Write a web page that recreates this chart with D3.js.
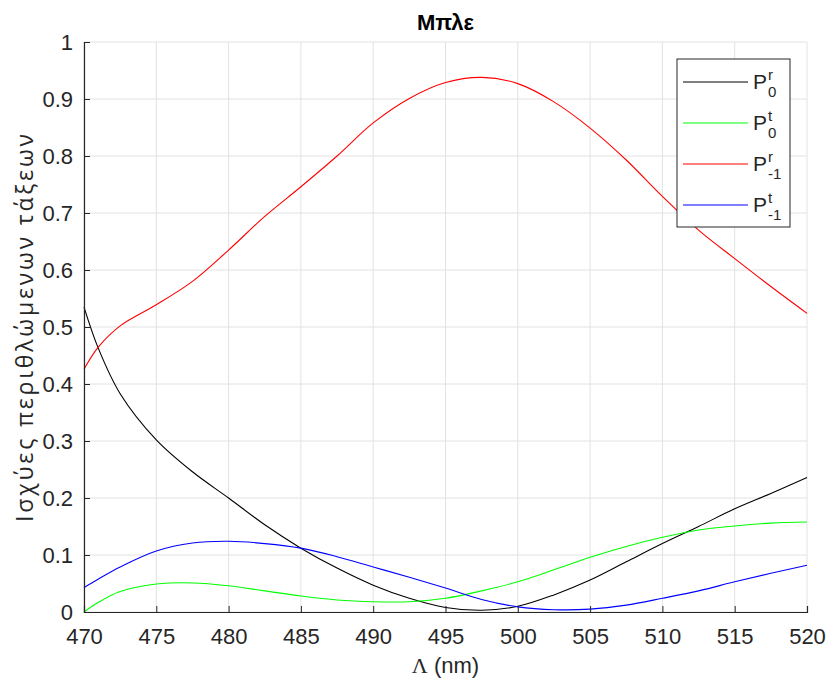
<!DOCTYPE html>
<html>
<head>
<meta charset="utf-8">
<script src="https://cdn.jsdelivr.net/npm/d3@7"></script>
<style>
  body { margin: 0; background: #fff; }
  text { font-family: "Liberation Sans", Arial, sans-serif; fill: #262626; }
</style>
</head>
<body>
<div id="chart"></div>
<script>
// wavelength samples (nm)
const lambda = [470, 471, 472.5, 475, 477.5, 480, 482.5, 485, 487.5, 490, 492.5, 495, 497.5,
                500, 502.5, 505, 507.5, 510, 512.5, 515, 517.5, 520];

const p0r  = [0.535, 0.462, 0.383, 0.302, 0.246, 0.200, 0.153, 0.112, 0.077, 0.047, 0.024, 0.008, 0.003,
              0.010, 0.030, 0.056, 0.088, 0.120, 0.150, 0.181, 0.208, 0.236];
const p0t  = [0.000, 0.017, 0.036, 0.049, 0.051, 0.046, 0.037, 0.028, 0.021, 0.018, 0.018, 0.024, 0.037,
              0.053, 0.074, 0.096, 0.115, 0.131, 0.144, 0.151, 0.156, 0.158];
const pm1r = [0.426, 0.465, 0.502, 0.539, 0.580, 0.635, 0.694, 0.746, 0.800, 0.858, 0.901, 0.929, 0.938,
              0.927, 0.895, 0.849, 0.793, 0.729, 0.670, 0.620, 0.571, 0.524];
const pm1t = [0.043, 0.058, 0.079, 0.107, 0.121, 0.124, 0.120, 0.112, 0.097, 0.079, 0.061, 0.042, 0.022,
              0.009, 0.004, 0.005, 0.012, 0.024, 0.037, 0.053, 0.068, 0.082];

const xTicks = [470, 475, 480, 485, 490, 495, 500, 505, 510, 515, 520];
const yTicks = [0, 0.1, 0.2, 0.3, 0.4, 0.5, 0.6, 0.7, 0.8, 0.9, 1];

const series = [
  {values: p0r,  color: "#000000", sup: "r", sub: "0"},
  {values: p0t,  color: "#00ff00", sup: "t", sub: "0"},
  {values: pm1r, color: "#ff0000", sup: "r", sub: "-1"},
  {values: pm1t, color: "#0000ff", sup: "t", sub: "-1"}
];

const svgWidth = 827, svgHeight = 680;
const margin = {top: 42, left: 84};
const width = 807 - margin.left;
const height = 612 - margin.top;

const svg = d3.select("#chart").append("svg")
    .attr("width", svgWidth)
    .attr("height", svgHeight);

const g = svg.append("g")
    .attr("transform", `translate(${margin.left}, ${margin.top})`);

const x = d3.scaleLinear().domain([470, 520]).range([0, width]);
const y = d3.scaleLinear().domain([0, 1]).range([height, 0]);

// grid
g.append("g").selectAll("line")
    .data(xTicks)
    .join("line")
    .attr("x1", d => x(d)).attr("x2", d => x(d))
    .attr("y1", 0).attr("y2", height)
    .attr("stroke", "#e2e2e2");
g.append("g").selectAll("line")
    .data(yTicks)
    .join("line")
    .attr("x1", 0).attr("x2", width)
    .attr("y1", d => y(d)).attr("y2", d => y(d))
    .attr("stroke", "#e2e2e2");

// curves
const line = d3.line()
    .x((d, i) => x(lambda[i]))
    .y(d => y(d))
    .curve(d3.curveCatmullRom.alpha(0.5));

series.forEach(s => {
  g.append("path")
    .datum(s.values)
    .attr("fill", "none")
    .attr("stroke", s.color)
    .attr("stroke-width", 1.1)
    .attr("d", line);
});

// axes with inward ticks
const bottomAxis = d3.axisBottom(x).tickValues(xTicks).tickSize(-6).tickPadding(16);
const leftAxis = d3.axisLeft(y).tickValues(yTicks).tickSize(-6).tickPadding(11)
    .tickFormat(d3.format("~g"));

const xa = g.append("g")
    .attr("transform", `translate(0, ${height})`)
    .call(bottomAxis);
const ya = g.append("g").call(leftAxis);

[xa, ya].forEach(a => {
  a.select(".domain").attr("stroke", "#262626").attr("stroke-width", 1.2);
  a.selectAll(".tick line").attr("stroke", "#262626");
  a.selectAll(".tick text")
    .attr("fill", "#262626")
    .style("font-size", "22px")
    .style("font-family", "'Liberation Sans', Arial, sans-serif");
});

// title
svg.append("text")
    .attr("x", margin.left + width / 2)
    .attr("y", 30)
    .attr("text-anchor", "middle")
    .attr("font-size", 22)
    .attr("font-weight", "bold")
    .style("fill", "#000")
    .text("Μπλε");

// x label
const xl = svg.append("text")
    .attr("x", margin.left + width / 2)
    .attr("y", 673)
    .attr("text-anchor", "middle")
    .attr("font-size", 22);
xl.append("tspan").style("font-family", "'Liberation Serif', serif").text("Λ");
xl.append("tspan").text(" (nm)");

// y label
svg.append("text")
    .attr("transform", `translate(33, 328) rotate(-90)`)
    .attr("text-anchor", "middle")
    .attr("font-size", 23)
    .attr("textLength", 388)
    .attr("lengthAdjust", "spacing")
    .style("font-family", "'Open Sans', sans-serif")
    .text("Ισχύες περιθλώμενων τάξεων");

// legend
const legend = svg.append("g").attr("transform", "translate(677, 59)");
legend.append("rect")
    .attr("width", 113).attr("height", 168)
    .attr("fill", "#fff")
    .attr("stroke", "#262626");

series.forEach((s, i) => {
  const row = legend.append("g").attr("transform", `translate(0, ${23 + i * 41})`);
  row.append("line")
    .attr("x1", 6).attr("x2", 71)
    .attr("stroke", s.color)
    .attr("stroke-width", 1.1);
  const t = row.append("text")
    .attr("x", 76)
    .attr("y", 7)
    .attr("font-size", 21);
  t.append("tspan").text("P");
  t.append("tspan").attr("x", 91).attr("y", -2).attr("font-size", 15).text(s.sup);
  t.append("tspan").attr("x", 91).attr("y", 15).attr("font-size", 15).text(s.sub);
});
</script>
</body>
</html>
